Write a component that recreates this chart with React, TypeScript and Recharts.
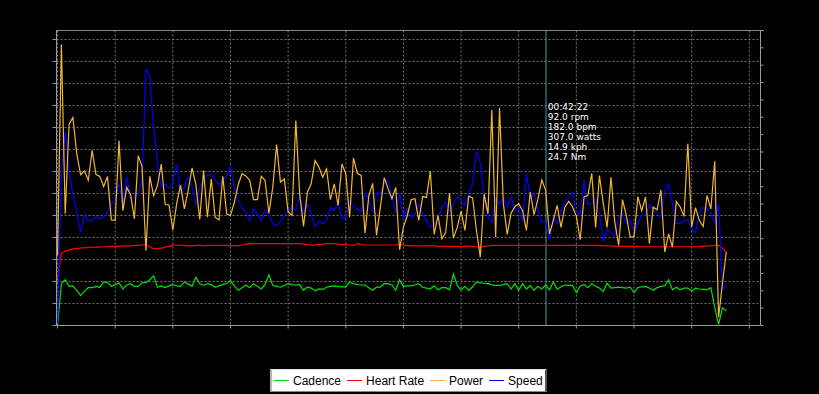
import React from "react"
import { LineChart, Line, XAxis, YAxis, CartesianGrid, ReferenceLine } from "recharts"

// one sample every 20 s, 0:00 .. 58:00
const SAMPLE_SECONDS = 20

const cadence = [
  0, 95, 104, 89, 90, 80, 68, 78, 86, 86,
  89, 87, 99, 98, 89, 93, 97, 83, 92, 95,
  89, 89, 97, 98, 104, 113, 87, 90, 86, 90,
  93, 90, 89, 99, 94, 89, 110, 95, 91, 95,
  93, 87, 90, 93, 96, 102, 90, 80, 86, 92,
  86, 95, 89, 83, 93, 115, 91, 89, 87, 91,
  95, 93, 92, 93, 80, 87, 85, 79, 83, 82,
  87, 89, 90, 89, 88, 88, 99, 95, 93, 92,
  92, 86, 80, 87, 87, 95, 95, 92, 80, 104,
  89, 90, 90, 92, 95, 87, 85, 83, 90, 81,
  86, 86, 81, 117, 91, 81, 89, 80, 88, 99,
  97, 96, 95, 93, 91, 91, 93, 95, 83, 95,
  80, 95, 83, 91, 80, 89, 83, 92, 81, 99,
  82, 88, 92, 91, 91, 75, 90, 93, 86, 95,
  89, 85, 77, 96, 85, 86, 87, 86, 85, 87,
  75, 86, 88, 89, 85, 80, 86, 89, 90, 104,
  81, 87, 81, 85, 85, 78, 85, 83, 82, 81,
  86, 42, 2, 40, 33,
]

const heartRate = [
  107, 164, 169, 172, 174, 175, 176, 177, 177, 178,
  178, 178, 179, 179, 180, 180, 180, 181, 181, 181,
  182, 182, 183, 184, 179, 174, 175, 176, 178, 180,
  182, 183, 182, 182, 181, 181, 182, 182, 181, 182,
  182, 182, 182, 182, 182, 181, 182, 181, 183, 185,
  186, 186, 186, 186, 186, 186, 186, 186, 186, 186,
  186, 186, 186, 186, 185, 184, 182, 183, 184, 185,
  186, 186, 186, 185, 184, 184, 183, 182, 186, 184,
  183, 183, 183, 183, 183, 183, 183, 183, 183, 185,
  183, 181, 181, 181, 181, 181, 181, 181, 181, 180,
  180, 180, 180, 180, 180, 180, 180, 181, 180, 179,
  178, 180, 181, 182, 182, 182, 182, 182, 182, 182,
  182, 182, 182, 182, 182, 182, 182, 182, 182, 182,
  182, 182, 182, 182, 182, 182, 182, 182, 182, 182,
  182, 182, 181, 181, 181, 180, 180, 180, 180, 180,
  180, 180, 179, 179, 179, 179, 179, 179, 179, 179,
  179, 179, 179, 179, 179, 179, 179, 180, 180, 181,
  181, 182, 182, 176, 167,
]

const power = [
  160, 639, 254, 457, 473, 390, 343, 351, 330, 398,
  343, 339, 316, 339, 240, 239, 420, 261, 314, 298,
  242, 386, 361, 170, 339, 295, 318, 367, 275, 274,
  217, 277, 319, 265, 307, 358, 320, 241, 352, 246,
  333, 246, 240, 339, 254, 250, 280, 320, 345, 340,
  330, 286, 286, 339, 330, 255, 314, 411, 326, 333,
  258, 250, 466, 299, 225, 303, 322, 375, 360, 337,
  356, 286, 322, 273, 367, 345, 246, 381, 346, 341,
  210, 295, 323, 205, 269, 336, 311, 288, 314, 172,
  223, 250, 286, 288, 239, 293, 291, 351, 207, 250,
  197, 212, 301, 199, 223, 260, 216, 294, 290, 216,
  155, 299, 254, 490, 201, 495, 277, 207, 255, 270,
  277, 261, 216, 303, 252, 288, 331, 307, 208, 239,
  273, 223, 269, 282, 270, 248, 195, 292, 296, 346,
  223, 341, 277, 223, 337, 235, 182, 286, 250, 201,
  202, 293, 261, 292, 186, 269, 263, 308, 167, 208,
  178, 282, 270, 248, 413, 224, 268, 239, 225, 295,
  265, 373, 19, 95, 167,
]

const speed = [
  0.3, 22, 27.9, 22, 19, 16.4, 13.4, 16, 15.2, 15,
  15.7, 15.4, 15.6, 16.3, 17.5, 18.3, 20.4, 17.5, 21.4, 18.3,
  18.5, 19, 21.1, 37, 35.8, 28.6, 23.3, 20, 20.4, 19.7,
  20.6, 23.2, 19, 19.9, 21.4, 19.9, 17.3, 19.9, 21.2, 21.6,
  21.8, 20.9, 20.3, 21, 21.6, 22.9, 19.9, 18, 17, 16.3,
  15.1, 16.8, 16, 15.1, 16.7, 16, 14.7, 14.4, 15, 15.8,
  16.6, 17.1, 16.6, 18.6, 16.2, 17.5, 16, 14.2, 15, 14.7,
  15.1, 17, 16.6, 17.8, 15.4, 15.6, 18, 17.1, 16.8, 16.3,
  19.1, 18.1, 16.3, 19.1, 18.9, 20.4, 20.9, 18.5, 16.3, 19.1,
  15.4, 16.7, 15.6, 15.9, 17.5, 16, 15.1, 14.2, 14.6, 15.4,
  17, 17.8, 16.3, 17.4, 18.6, 18.1, 17.3, 19.1, 20.4, 25,
  23.5, 18.5, 15.6, 14.9, 18.5, 17.5, 18.3, 17, 18.5, 16.6,
  17.1, 14.9, 21.9, 18.5, 19, 16.5, 14.9, 14.9, 12.3, 15.6,
  14.7, 16.5, 17.8, 18.5, 19.2, 16.3, 16, 20.9, 17.5, 17.6,
  18.3, 15.9, 12.1, 13.9, 13.4, 13, 15.6, 16.3, 14.7, 15.1,
  13.4, 14.7, 15.9, 15.9, 17.4, 16.8, 16.1, 15.6, 19.5, 20.4,
  17.5, 14.7, 14.7, 15.1, 15.2, 13.9, 13.4, 16.3, 17, 16.9,
  16.1, 14.7, 17.6, 5.2, 5.9,
]

const TIME_TICKS = [0, 5, 10, 15, 20, 25, 30, 35, 40, 45, 50, 55, 60]
const LEFT_TICKS = [0, 50, 100, 150, 200, 250, 300, 350, 400, 450, 500, 550, 600, 650]
const RIGHT_TICKS = [0, 2.5, 5, 7.5, 10, 12.5, 15, 17.5, 20, 22.5, 25, 27.5, 30, 32.5, 35, 37.5, 40, 42.5]

// cursor readout
const CURSOR_MIN = 42 + 22 / 60
const READOUT = ["00:42:22", "92.0 rpm", "182.0 bpm", "307.0 watts", "14.9 kph", "24.7 Nm"]

const SERIES = [
  { key: "cadence", label: "Cadence", color: "#00e000" },
  { key: "hr", label: "Heart Rate", color: "#ff0000" },
  { key: "power", label: "Power", color: "#f2b632" },
  { key: "speed", label: "Speed", color: "#0000ff" },
]

const data = power.map((_, i) => ({
  t: (i * SAMPLE_SECONDS) / 60,
  cadence: cadence[i],
  hr: heartRate[i],
  power: power[i],
  speed: speed[i],
}))

const AXIS = "#9a9a9a"
const noLabel = () => ""

const Readout = (props: any) => {
  const vb = props.viewBox || { x: 0, y: 0 }
  return (
    <g>
      {READOUT.map((s, i) => (
        <text
          key={s}
          x={vb.x + 1.8}
          y={vb.y + 79.5 + i * 10}
          fill="#ffffff"
          fontSize={9}
          fontFamily="DejaVu Sans, sans-serif"
        >
          {s}
        </text>
      ))}
    </g>
  )
}

export default function App() {
  return (
    <div style={{ position: "absolute", left: 0, top: 0, width: 819, height: 394, background: "#000", overflow: "hidden" }}>
      <LineChart
        width={819}
        height={394}
        data={data}
        margin={{ top: 30.5, right: 50.5, bottom: 58.5, left: 0 }}
      >
        <CartesianGrid yAxisId="left" stroke="#777" strokeDasharray="2 2" />
        <XAxis
          dataKey="t"
          type="number"
          domain={[-0.09, 60.97]}
          ticks={TIME_TICKS}
          tickFormatter={noLabel}
          tickSize={3}
          height={10}
          axisLine={{ stroke: AXIS }}
          tickLine={{ stroke: AXIS }}
          allowDataOverflow
        />
        <YAxis
          yAxisId="left"
          width={56.5}
          domain={[0, 670.45]}
          ticks={LEFT_TICKS}
          tickFormatter={noLabel}
          tickSize={4}
          axisLine={{ stroke: AXIS }}
          tickLine={{ stroke: AXIS }}
          allowDataOverflow
        />
        <YAxis
          yAxisId="right"
          orientation="right"
          width={8}
          domain={[0, 42.5]}
          ticks={RIGHT_TICKS}
          tickFormatter={noLabel}
          tickSize={3}
          axisLine={{ stroke: AXIS }}
          tickLine={{ stroke: AXIS }}
          allowDataOverflow
        />
        <ReferenceLine yAxisId="left" y={670.45} stroke="#888" />
        <ReferenceLine yAxisId="left" x={CURSOR_MIN} stroke="#3f9e9e" label={<Readout />} />
        <Line yAxisId="left" dataKey="cadence" stroke="#00e000" strokeWidth={1.2} dot={false} isAnimationActive={false} />
        <Line yAxisId="left" dataKey="hr" stroke="#ff0000" strokeWidth={1.2} dot={false} isAnimationActive={false} />
        <Line yAxisId="right" dataKey="speed" stroke="#0000ff" strokeWidth={1.2} dot={false} isAnimationActive={false} />
        <Line yAxisId="left" dataKey="power" stroke="#f2b632" strokeWidth={1.2} dot={false} isAnimationActive={false} />
      </LineChart>

      {/* legend box */}
      <div
        style={{
          position: "absolute",
          left: 270,
          top: 369,
          width: 277,
          height: 23,
          boxSizing: "border-box",
          background: "#fff",
          borderLeft: "2px solid #b4b4b4",
          borderRight: "2px solid #555",
          borderTop: "1px solid #e0e0e0",
          borderBottom: "1px solid #888",
          display: "flex",
          alignItems: "center",
          paddingLeft: 2,
          fontFamily: "Liberation Sans, Arial, sans-serif",
          fontSize: 12,
          color: "#000",
          whiteSpace: "nowrap",
        }}
      >
        {SERIES.map((s) => (
          <span key={s.key} style={{ display: "flex", alignItems: "center", marginRight: 6 }}>
            <span style={{ display: "inline-block", width: 15, height: 1, background: s.color, marginRight: 4 }} />
            <span>{s.label}</span>
          </span>
        ))}
      </div>
    </div>
  )
}
